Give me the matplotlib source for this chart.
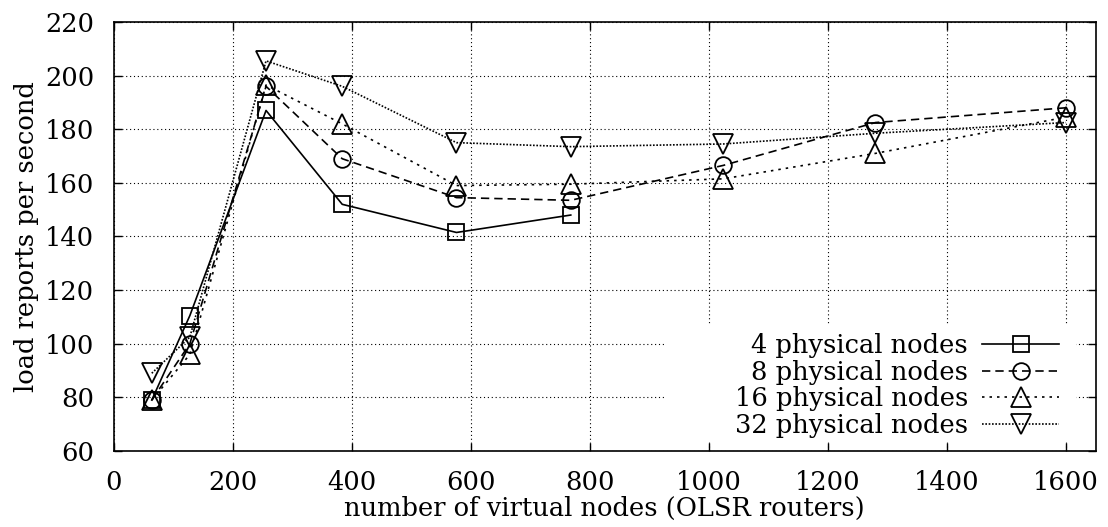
import matplotlib
matplotlib.use("Agg")
import matplotlib.pyplot as plt
from matplotlib.patches import Rectangle

plt.rcParams['font.family'] = ['DejaVu Serif']
plt.rcParams['font.size'] = 18.5

x4 = [64, 128, 256, 384, 576, 768]
y4 = [79, 110.5, 187, 152, 141.5, 148]
x_all = [64, 128, 256, 384, 576, 768, 1024, 1280, 1600]
y8 = [79, 100, 196, 169, 154.5, 153.5, 166.5, 182.5, 188]
y16 = [79, 96, 196.5, 182, 159, 159.5, 161.5, 171, 184.5]
y32 = [89, 102.5, 205.5, 196, 175, 173.5, 174.5, 178.5, 182.5]
labels = ["4 physical nodes", "8 physical nodes", "16 physical nodes", "32 physical nodes"]

fig = plt.figure(figsize=(11.08, 5.27), dpi=100)
ax = fig.add_axes([0.1026, 0.1442, 0.9889 - 0.1026, 0.9583 - 0.1442])

lw = 1.2
mew = 1.3
common = dict(color='black', lw=lw, mfc='none', mec='black', mew=mew, zorder=3)
ax.plot(x4, y4, ls='-', marker='s', ms=12, label=labels[0], **common)
ax.plot(x_all, y8, ls=(0, (5, 3)), marker='o', ms=12, label=labels[1], **common)
ax.plot(x_all, y16, ls=(0, (1.5, 3)), marker='^', ms=14, label=labels[2], **common)
ax.plot(x_all, y32, ls=(0, (1, 1)), marker='v', ms=14, label=labels[3], **common)

ax.set_xlim(0, 1650)
ax.set_ylim(60, 220)
ax.set_xticks(range(0, 1601, 200))
ax.set_yticks(range(60, 221, 20))
ax.grid(True, color='black', ls=(0, (1, 2.5)), lw=0.8)
ax.tick_params(direction='in', length=6, width=1, top=True, right=True, pad=14)
for s in ax.spines.values():
    s.set_linewidth(1.2)

ax.add_patch(Rectangle((0.560, 0.025), 0.42, 0.27, transform=ax.transAxes,
                       facecolor='white', edgecolor='none', zorder=2))

ax.set_xlabel("number of virtual nodes (OLSR routers)", labelpad=0)
ax.set_ylabel("load reports per second", labelpad=4)

leg = ax.legend(loc='lower right', frameon=False, markerfirst=False,
                handlelength=3.0, handletextpad=0.55, labelspacing=0.07,
                borderaxespad=0, borderpad=0, bbox_to_anchor=(0.963, 0.03))
leg.set_zorder(4)
for t in leg.get_texts():
    t.set_ha('right')

fig.savefig("out.png", dpi=100)
